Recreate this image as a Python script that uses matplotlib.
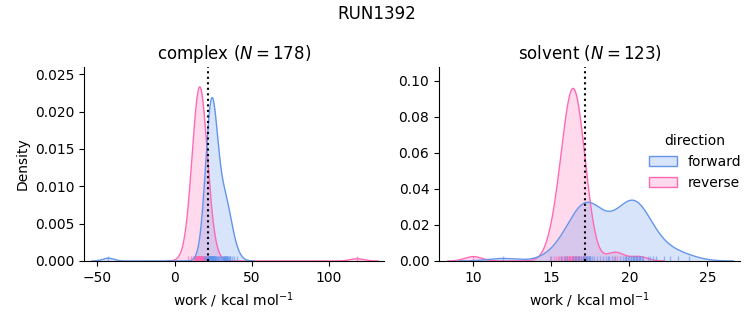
import numpy as np
import matplotlib
matplotlib.use("Agg")
import matplotlib.pyplot as plt
from matplotlib.patches import Patch

# work values (kcal/mol) per phase and direction
complex_forward = [
    -42.8,
    18.8, 19.8, 20.6, 21.1, 21.5, 21.8, 22.0, 22.2, 22.4, 22.5,
    22.6, 22.7, 22.8, 22.9, 23.0, 23.1, 23.2, 23.2, 23.3, 23.4,
    23.4, 23.5, 23.5, 23.6, 23.6, 23.7, 23.7, 23.8, 23.8, 23.9,
    23.9, 24.0, 24.0, 24.1, 24.1, 24.2, 24.2, 24.3, 24.3, 24.4,
    24.5, 24.5, 24.6, 24.7, 24.8, 24.8, 24.9, 25.0, 25.1, 25.2,
    25.3, 25.4, 25.5, 25.7, 25.8, 26.0, 26.2, 26.4, 26.7, 27.0,
    27.4, 27.8, 28.3, 28.9,
    29.7, 30.3, 30.8, 31.1, 31.4, 31.7, 31.9, 32.2, 32.4, 32.6,
    32.9, 33.1, 33.3, 33.6, 33.8, 34.1, 34.4, 34.7, 35.1, 35.6,
    36.2, 37.0, 38.3, 40.6,
]
complex_reverse = [
    8.5, 10.5, 11.8, 12.5, 13.0, 13.4, 13.6, 13.8, 14.0, 14.1,
    14.2, 14.3, 14.4, 14.5, 14.6, 14.7, 14.8, 14.9, 15.0, 15.0,
    15.1, 15.1, 15.2, 15.3, 15.4, 15.4, 15.5, 15.6, 15.6, 15.7,
    15.8, 15.8, 15.9, 15.9, 16.0, 16.0, 16.1, 16.1, 16.2, 16.2,
    16.3, 16.3, 16.4, 16.4, 16.5, 16.5, 16.6, 16.7, 16.7, 16.8,
    16.9, 16.9, 17.0, 17.1, 17.2, 17.2, 17.3, 17.4, 17.5, 17.6,
    17.7, 17.8, 17.9, 18.0, 18.1, 18.3, 18.4, 18.6, 18.8, 19.0,
    19.2, 19.5, 19.8, 20.1, 20.5, 21.0, 21.5, 22.5, 24.5,
    15.3, 15.7, 16.0, 16.2, 16.4, 16.6, 16.8, 17.0, 17.3,
    118.2,
]
solvent_forward = [
    11.9,
    15.0,
    15.6, 15.9, 16.0, 17.4,
    16.4, 16.5, 16.6, 16.7, 16.8, 16.9, 17.0, 17.0, 17.1,
    17.1, 17.2, 17.2, 17.3, 17.3, 17.4, 17.5, 17.5, 17.6, 17.7, 17.9, 18.1,
    18.3, 18.5, 18.7, 18.9, 19.1,
    19.4, 19.6, 19.7, 19.8, 19.8, 19.9, 20.0, 20.1, 20.1,
    20.2, 20.2, 20.3, 20.3, 20.4, 20.4, 20.5, 20.5, 20.6, 20.7, 20.7, 20.8, 20.9, 18.6,
    21.2, 21.3, 21.5, 21.7,
    22.2, 22.6, 23.1, 23.8,
]
solvent_reverse = [
    10.0,
    14.9, 15.2, 15.3, 15.4, 15.5, 15.6, 15.7, 15.8, 15.8, 15.9,
    15.9, 16.0, 16.0, 16.0, 16.1, 16.1, 16.1, 16.2, 16.2, 16.2,
    16.3, 16.3, 16.3, 16.3, 16.4, 16.4, 16.4, 16.4, 16.5, 16.5,
    16.5, 16.5, 16.6, 16.6, 16.6, 16.6, 16.7, 16.7, 16.7, 16.8,
    16.8, 16.8, 16.9, 16.9, 17.0, 17.0, 17.1, 17.1, 17.2, 17.2,
    17.3, 17.4, 15.6, 16.0, 16.2, 16.5,
    19.0, 19.2, 20.6,
]
# free energy estimates (dotted lines)
dg_complex = 21.5
dg_solvent = 17.16

directions = ["forward", "reverse"]
colors = {"forward": "cornflowerblue", "reverse": "hotpink"}
panels = [
    ("complex", {"forward": complex_forward, "reverse": complex_reverse}, dg_complex),
    ("solvent", {"forward": solvent_forward, "reverse": solvent_reverse}, dg_solvent),
]
n_total = sum(len(v) for _, d, _ in panels for v in d.values())


def kde(x, total):
    x = np.asarray(x, dtype=float)
    h = x.std(ddof=1) * len(x) ** (-1 / 5)
    grid = np.linspace(x.min() - 3 * h, x.max() + 3 * h, 400)
    z = (grid[:, None] - x[None, :]) / h
    dens = np.exp(-0.5 * z ** 2).sum(axis=1) / (h * np.sqrt(2 * np.pi)) / total
    return grid, dens


fig = plt.figure(figsize=(7.53, 3.25), dpi=100)
ax1 = fig.add_axes([0.1116, 0.197, 0.398, 0.597])
ax2 = fig.add_axes([0.583, 0.197, 0.400, 0.597])

for ax, (phase, data, dg) in zip([ax1, ax2], panels):
    for d in directions[::-1]:
        g, y = kde(data[d], n_total)
        ax.fill_between(g, y, color=colors[d], alpha=0.25, lw=0)
        ax.plot(g, y, color=colors[d], lw=1)
        ax.vlines(data[d], 0, 0.025, transform=ax.get_xaxis_transform(),
                  color=colors[d], alpha=0.6, lw=1)
    ax.axvline(dg, color="k", ls=":", lw=1.5)
    n = sum(len(v) for v in data.values())
    ax.set_title(f"{phase} ($N = {n}$)", fontsize=12)
    ax.set_xlabel("work / kcal mol$^{-1}$")
    ax.spines["top"].set_visible(False)
    ax.spines["right"].set_visible(False)

ax1.set_ylabel("Density")
ax1.set_xlim(-58.6, 135.4)
ax1.set_ylim(0, 0.02598)
ax1.set_xticks([-50, 0, 50, 100])
ax1.set_yticks([0, 0.005, 0.010, 0.015, 0.020, 0.025])
ax2.set_xlim(7.8, 27.1)
ax2.set_ylim(0, 0.1078)
ax2.set_xticks([10, 15, 20, 25])
ax2.set_yticks([0, 0.02, 0.04, 0.06, 0.08, 0.10])

handles = [Patch(facecolor=matplotlib.colors.to_rgba(colors[d], 0.25),
                 edgecolor=colors[d]) for d in directions]
ax2.legend(handles, directions, title="direction", frameon=False,
           loc="center left", bbox_to_anchor=(0.655, 0.51), fontsize=10,
           title_fontsize=10)

fig.suptitle("RUN1392", fontsize=12, y=0.985)
fig.savefig("out.png", dpi=100)
